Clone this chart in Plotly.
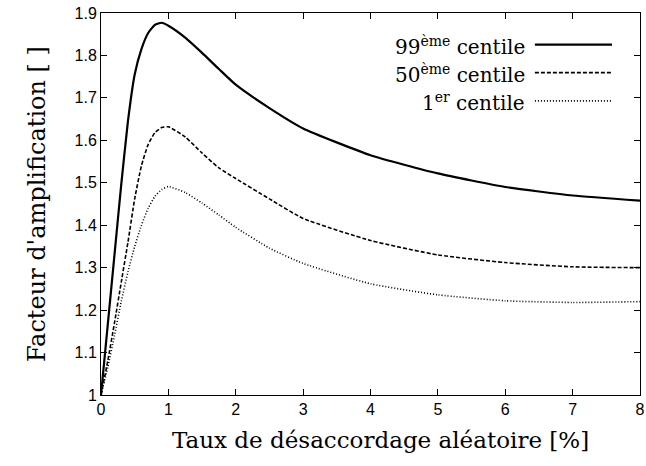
import plotly.graph_objects as go

x_vals = [0, 0.1, 0.2, 0.3, 0.4, 0.5, 0.6, 0.7, 0.8, 0.9, 1.0, 1.25, 1.5, 1.75, 2.0, 2.5, 3.0, 4.0, 5.0, 6.0, 7.0, 8.0]
p99 = [1.0, 1.165, 1.33, 1.495, 1.645, 1.755, 1.815, 1.853, 1.872, 1.877, 1.870, 1.842, 1.806, 1.768, 1.731, 1.676, 1.628, 1.565, 1.522, 1.490, 1.470, 1.458]
p50 = [1.0, 1.08, 1.17, 1.265, 1.36, 1.462, 1.54, 1.59, 1.618, 1.630, 1.632, 1.608, 1.570, 1.535, 1.510, 1.462, 1.416, 1.364, 1.330, 1.312, 1.302, 1.300]
p1 = [1.0, 1.065, 1.14, 1.22, 1.29, 1.35, 1.40, 1.44, 1.468, 1.484, 1.491, 1.477, 1.452, 1.424, 1.395, 1.346, 1.310, 1.262, 1.236, 1.222, 1.218, 1.220]

names = ["99<sup>ème</sup> centile", "50<sup>ème</sup> centile", "1<sup>er</sup> centile"]
series = [p99, p50, p1]
styles = [dict(width=2.2, dash="solid"), dict(width=1.6, dash="4px,2px"), dict(width=1.6, dash="1px,2px")]

x_ticks = [0, 1, 2, 3, 4, 5, 6, 7, 8]
y_ticks = [1, 1.1, 1.2, 1.3, 1.4, 1.5, 1.6, 1.7, 1.8, 1.9]
x_title = "Taux de désaccordage aléatoire [%]"
y_title = "Facteur d'amplification [ ]"

SERIF = "DejaVu Serif, Liberation Serif, serif"
SANS = "Liberation Sans, Arial, sans-serif"

fig = go.Figure()
for n, s, st in zip(names, series, styles):
    fig.add_trace(go.Scatter(x=x_vals, y=s, mode="lines", name=n,
                             line=dict(color="black", shape="spline", smoothing=0.5, **st),
                             showlegend=False))

# Legend built as annotations + line samples (text right-aligned, sample on right)
leg_y = [0.917, 0.844, 0.770]
for n, ly, st in zip(names, leg_y, styles):
    fig.add_annotation(xref="paper", yref="paper", x=0.79, y=ly - 0.004, text=n, showarrow=False,
                       xanchor="right", yanchor="middle",
                       font=dict(family=SERIF, size=20, color="black"))
    fig.add_shape(type="line", xref="paper", yref="paper", x0=0.805, x1=0.948, y0=ly, y1=ly,
                  line=dict(color="black", **st))

# x-axis title (slightly right of centre, as in the reference)
fig.add_annotation(xref="paper", yref="paper", x=0.518, y=-0.118, text=x_title, showarrow=False,
                   xanchor="center", yanchor="middle",
                   font=dict(family=SERIF, size=23, color="black"))

axis_common = dict(showline=True, linecolor="black", linewidth=1, mirror="ticks",
                   ticks="inside", ticklen=6, tickcolor="black", showgrid=False, zeroline=False,
                   automargin=False,
                   tickfont=dict(family=SANS, size=16, color="black"))

fig.update_xaxes(range=[0, 8], tickvals=x_ticks, ticktext=[str(v) for v in x_ticks], **axis_common)
fig.update_yaxes(range=[1, 1.9], tickvals=y_ticks, ticktext=[f"{v:g}" for v in y_ticks],
                 title=dict(text=y_title, standoff=22,
                            font=dict(family=SERIF, size=24, color="black")),
                 **axis_common)

fig.update_layout(width=646, height=466, margin=dict(l=101, r=6, t=13, b=71),
                  plot_bgcolor="white", paper_bgcolor="white")

# remove the browser's default body margin so the figure sits at the page origin
fig.write_html("out.html", config={"displayModeBar": False},
               post_script="document.body.style.margin='0';")
